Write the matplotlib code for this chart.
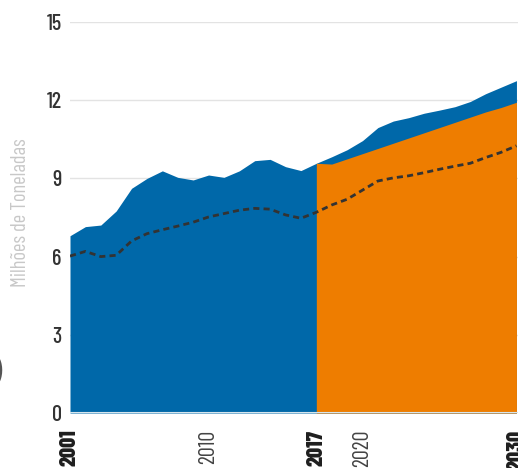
import matplotlib
matplotlib.use("Agg")
import matplotlib.pyplot as plt

cond = ["Barlow Condensed", "DejaVu Sans"]

years_hist = list(range(2001, 2018))
years_proj = list(range(2017, 2031))
years_all = list(range(2001, 2031))

total = [6.80, 7.15, 7.21, 7.75, 8.62, 9.00, 9.29, 9.04, 8.94, 9.13, 9.04, 9.29, 9.68, 9.73, 9.45, 9.30, 9.58,
         9.83, 10.10, 10.45, 10.95, 11.20, 11.33, 11.50, 11.62, 11.75, 11.95, 12.25, 12.50, 12.75]
projected = [9.58, 9.55, 9.75, 9.95, 10.15, 10.35, 10.55, 10.75, 10.95, 11.15, 11.35, 11.55, 11.72, 11.92]
trend = [6.02, 6.20, 6.00, 6.05, 6.60, 6.88, 7.03, 7.17, 7.32, 7.52, 7.65, 7.78, 7.85, 7.82, 7.60, 7.47, 7.70,
         7.98, 8.20, 8.55, 8.90, 9.02, 9.10, 9.22, 9.35, 9.47, 9.58, 9.80, 10.00, 10.25]

yticks = [0, 3, 6, 9, 12, 15]
xticks = [2001, 2010, 2017, 2020, 2030]
xtick_labels = ["2001", "2010", "2017", "2020", "2030"]
bold_ticks = {"2001", "2017", "2030"}

fig = plt.figure(figsize=(5.18, 4.68), dpi=100)
ax = fig.add_axes([70/518, 55/468, 448/518, (413-22)/468])

ax.fill_between(years_all, 0, total, color="#0068a9", lw=0, zorder=2)
ax.fill_between(years_proj, 0, projected, color="#ee7d00", lw=0, zorder=3)
ax.plot(years_all, trend, color="#333333", lw=2, dashes=(2.2, 1.5), zorder=4)
ax.axhline(0, color="#d6e6ee", lw=1.5, zorder=5)

ax.set_xlim(2001, 2030.1)
ax.set_ylim(0, 15)
ax.set_yticks(yticks)
ax.set_yticklabels([str(v) for v in yticks], fontsize=16, color="#333333", family=cond, fontweight=500)
ax.set_xticks(xticks)
ax.set_xticklabels(xtick_labels, rotation=90, fontsize=16, family=cond)
for lab in ax.get_xticklabels():
    if lab.get_text() in bold_ticks:
        lab.set_fontweight(800)
        lab.set_color("#1e1e1e")
    else:
        lab.set_fontweight(400)
        lab.set_color("#444444")
ax.tick_params(axis="both", length=0)
ax.tick_params(axis="y", pad=6)
ax.tick_params(axis="x", pad=12)
ax.grid(axis="y", color="#e3e3e3", lw=1, zorder=0)
ax.set_axisbelow(True)
for s in ax.spines.values():
    s.set_visible(False)

fig.text(21/518, 1 - 213/468, "Milhões de Toneladas", rotation=90, ha="center", va="center",
         fontsize=14.8, color="#c8c8c8", family=cond, fontweight=400)
fig.text(-5/518, 1 - 372/468, ")", ha="left", va="center", fontsize=20, color="#555555", family=cond)

fig.savefig("out.png", dpi=100)
